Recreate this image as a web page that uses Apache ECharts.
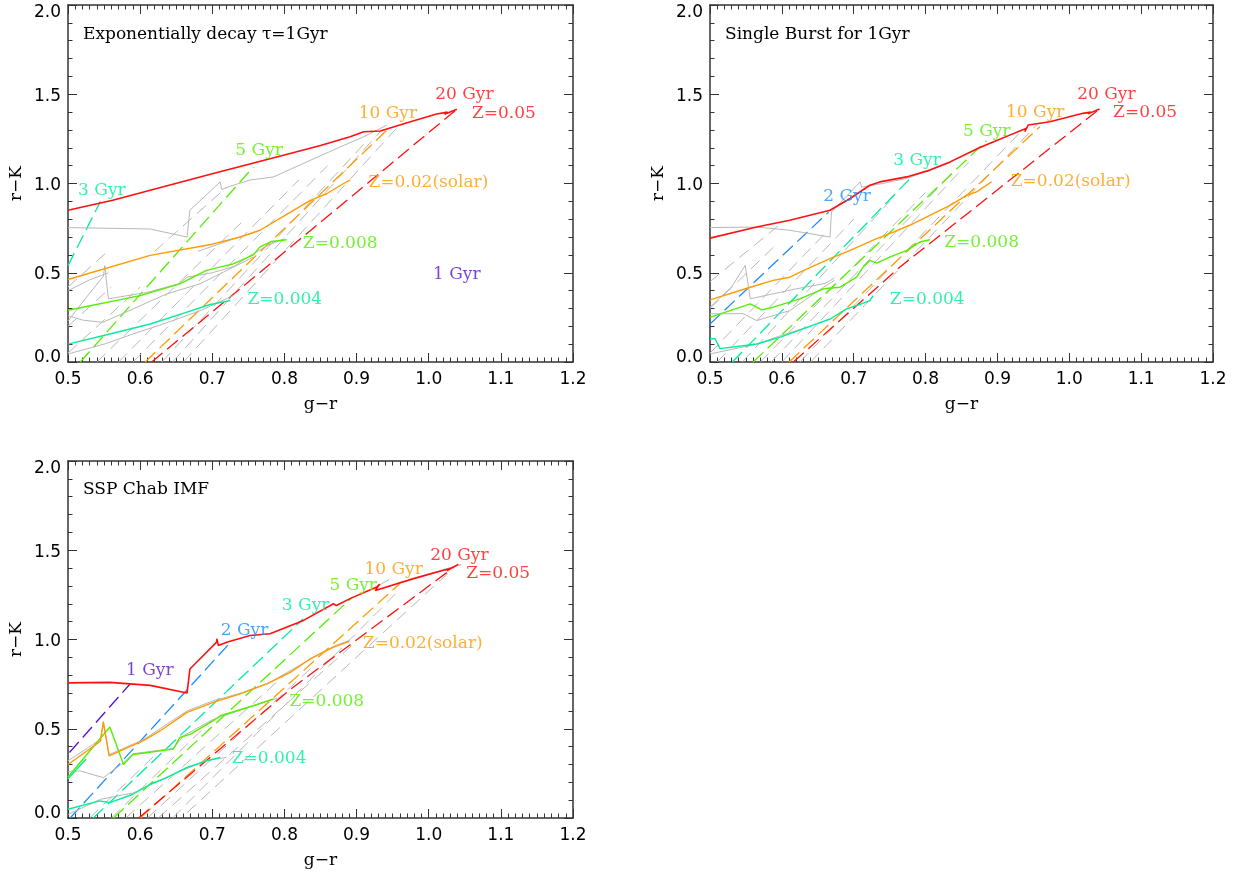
<!DOCTYPE html>
<html>
<head>
<meta charset="utf-8">
<title>Colour tracks: g-r vs r-K</title>
<script src="https://cdn.jsdelivr.net/npm/echarts@6/dist/echarts.min.js"></script>
<style>
  html, body { margin: 0; padding: 0; background: #fff; }
  #chart { width: 1236px; height: 875px; }
</style>
</head>
<body>
<div id="chart"></div>
<script>
// ---------- Panel 1: exponentially declining SFH, tau = 1 Gyr ----------
const expZ05 = [[0.5,0.85],[0.562,0.906],[0.614,0.962],[0.7,1.055],[0.8,1.16],[0.85,1.213],[0.891,1.262],[0.91,1.29],[0.933,1.294],[0.97,1.34],[1.011,1.389],[1.026,1.40],[1.022,1.388],[1.039,1.416]];
const expZ02 = [[0.5,0.462],[0.614,0.597],[0.7,0.66],[0.739,0.70],[0.766,0.738],[0.8125,0.85],[0.836,0.906],[0.859,0.944],[0.882,1.0],[0.891,1.019]];
const expZ008 = [[0.5,0.29],[0.6,0.372],[0.655,0.438],[0.692,0.513],[0.729,0.55],[0.757,0.60],[0.766,0.645],[0.782,0.675],[0.803,0.685]];
const expZ004 = [[0.5,0.10],[0.558,0.157],[0.614,0.213],[0.665,0.279],[0.697,0.322],[0.725,0.344]];
const expDashZ05 = [[0.616,0],[1.039,1.416]];
const expDashZ02 = [[0.607,0],[0.947,1.318]];
const expDashZ008 = [[0.517,0],[0.757,1.093]];
const expDashZ004 = [[0.5,0.54],[0.545,0.90]];
const expGrey = [
  [[0.5,0.753],[0.586,0.747],[0.614,0.745],[0.665,0.70],[0.669,0.85],[0.711,1.009],[0.713,0.966],[0.725,0.985],[0.752,1.019],[0.785,1.037],[0.831,1.121],[0.873,1.197],[0.91,1.262],[0.942,1.327]],
  [[0.5,0.23],[0.525,0.36],[0.549,0.48],[0.551,0.54],[0.556,0.354],[0.61,0.39],[0.655,0.44],[0.665,0.475],[0.70,0.50],[0.73,0.535],[0.75,0.59],[0.78,0.66],[0.80,0.69]],
  [[0.5,0.40],[0.53,0.46],[0.556,0.50]],
  [[0.5,0.26],[0.52,0.235],[0.548,0.222],[0.575,0.27],[0.637,0.382],[0.683,0.438],[0.729,0.531],[0.757,0.588]],
  [[0.5,0.045],[0.55,0.10],[0.59,0.157],[0.637,0.22],[0.683,0.287],[0.729,0.372]],
  [[0.68,0.62],[0.73,0.69],[0.76,0.73]]
];
const expGreyDash = [
  [[0.5,0.05],[0.6,0.42]],
  [[0.5,0.20],[0.56,0.42]],
  [[0.5,0.42],[0.555,0.62]],
  [[0.54,0],[0.74,0.78]],
  [[0.57,0],[0.82,1.02]],
  [[0.59,0],[0.86,1.10]],
  [[0.63,0],[0.91,1.22]],
  [[0.645,0],[0.935,1.30]],
  [[0.66,0],[0.96,1.33]],
  [[0.62,0.62],[0.72,0.98]]
];
const expLabels = [
  ['3 Gyr',0.514,0.958,'z004'],['5 Gyr',0.732,1.187,'z008'],['10 Gyr',0.903,1.389,'z02'],
  ['20 Gyr',1.009,1.496,'z05'],['Z=0.05',1.06,1.393,'z05'],['Z=0.02(solar)',0.9165,1.003,'z02'],
  ['Z=0.008',0.8255,0.666,'z008'],['Z=0.004',0.7487,0.348,'z004'],['1 Gyr',1.006,0.49,'g1']
];

// ---------- Panel 2: single 1 Gyr burst ----------
const sbZ05 = [[0.5,0.694],[0.565,0.756],[0.611,0.794],[0.667,0.85],[0.695,0.916],[0.7225,0.99],[0.7364,1.009],[0.7736,1.037],[0.806,1.075],[0.834,1.121],[0.8755,1.202],[0.917,1.271],[0.9405,1.309],[0.938,1.29],[0.943,1.328],[0.973,1.346],[1.019,1.393],[1.03,1.40],[1.026,1.39],[1.042,1.417]];
const sbZ02 = [[0.5,0.348],[0.556,0.419],[0.588,0.457],[0.611,0.475],[0.635,0.522],[0.667,0.579],[0.695,0.625],[0.732,0.691],[0.75,0.719],[0.778,0.766],[0.806,0.822],[0.834,0.878],[0.857,0.934],[0.871,0.953],[0.892,1.01]];
const sbZ008 = [[0.5,0.25],[0.556,0.326],[0.572,0.292],[0.588,0.307],[0.625,0.354],[0.658,0.41],[0.681,0.419],[0.704,0.475],[0.713,0.531],[0.7225,0.569],[0.732,0.554],[0.75,0.588],[0.774,0.625],[0.792,0.672],[0.806,0.685]];
const sbZ004 = [[0.5,0.13],[0.507,0.13],[0.514,0.075],[0.565,0.101],[0.597,0.138],[0.635,0.194],[0.667,0.241],[0.69,0.298],[0.704,0.316],[0.7225,0.344],[0.727,0.372]];
const sbDashZ05 = [[0.616,0],[0.764,0.531],[1.042,1.417]];
const sbDashZ02 = [[0.61,0],[0.959,1.318]];
const sbDashZ008 = [[0.56,0],[0.885,1.24]];
const sbDashZ004 = [[0.531,0],[0.783,1.047]];
const sbDash2Gyr = [[0.5,0.213],[0.665,0.84]];
const sbGrey = [
  [[0.5,0.753],[0.565,0.756],[0.611,0.738],[0.667,0.70],[0.669,0.84],[0.709,1.009],[0.711,0.98],[0.74,1.0],[0.775,1.03],[0.83,1.11],[0.87,1.19],[0.935,1.30]],
  [[0.5,0.307],[0.53,0.42],[0.549,0.541],[0.556,0.354],[0.62,0.41],[0.66,0.44],[0.673,0.47]],
  [[0.5,0.27],[0.546,0.271],[0.565,0.232],[0.611,0.288],[0.658,0.419],[0.673,0.457]],
  [[0.5,0.045],[0.565,0.10],[0.60,0.15],[0.64,0.20]]
];
const sbGreyDash = [
  [[0.5,0.05],[0.66,0.72]],
  [[0.51,0],[0.70,0.80]],
  [[0.545,0],[0.75,0.90]],
  [[0.57,0],[0.80,0.95]],
  [[0.585,0],[0.84,1.07]],
  [[0.6,0],[0.86,1.12]],
  [[0.625,0],[0.93,1.28]],
  [[0.64,0],[0.955,1.33]],
  [[0.5,0.45],[0.6,0.78]],
  [[0.5,0.30],[0.59,0.65]]
];
const sbLabels = [
  ['2 Gyr',0.6576,0.925,'g2'],['3 Gyr',0.755,1.127,'z004'],['5 Gyr',0.852,1.29,'z008'],
  ['10 Gyr',0.912,1.399,'z02'],['20 Gyr',1.011,1.496,'z05'],['Z=0.05',1.061,1.397,'z05'],
  ['Z=0.02(solar)',0.9186,1.009,'z02'],['Z=0.008',0.826,0.668,'z008'],['Z=0.004',0.7503,0.35,'z004']
];

// ---------- Panel 3: SSP, Chabrier IMF ----------
const sspZ05 = [[0.5,0.757],[0.558,0.76],[0.614,0.743],[0.665,0.70],[0.669,0.835],[0.706,0.985],[0.7062,1.004],[0.7085,0.966],[0.72,0.985],[0.7524,1.022],[0.78,1.032],[0.8264,1.107],[0.868,1.20],[0.872,1.19],[0.891,1.229],[0.928,1.294],[0.932,1.31],[0.926,1.275],[0.979,1.341],[1.0205,1.388],[1.03,1.397],[1.025,1.385],[1.041,1.421]];
const sspZ02 = [[0.5,0.30],[0.545,0.43],[0.549,0.54],[0.557,0.348],[0.6045,0.433],[0.628,0.489],[0.665,0.592],[0.7015,0.648],[0.7386,0.695],[0.7756,0.751],[0.808,0.816],[0.8356,0.891],[0.868,0.957],[0.89,0.99]];
const sspZ008 = [[0.5,0.23],[0.558,0.51],[0.577,0.30],[0.59,0.356],[0.646,0.386],[0.655,0.451],[0.67,0.47],[0.7015,0.545],[0.711,0.573],[0.757,0.629],[0.785,0.667]];
const sspZ004 = [[0.5,0.049],[0.544,0.096],[0.558,0.086],[0.59,0.133],[0.614,0.189],[0.637,0.226],[0.665,0.283],[0.692,0.32],[0.711,0.339]];
const sspZ004Young = [[0.5,0.22],[0.525,0.33]];
const sspDash1Gyr = [[0.502,0.367],[0.586,0.751]];
const sspDash2Gyr = [[0.503,0],[0.722,0.97]];
const sspDashZ004 = [[0.535,0],[0.826,1.116]];
const sspDashZ008 = [[0.563,0],[0.895,1.24]];
const sspDashZ02 = [[0.6,0],[0.96,1.313]];
const sspDashZ05 = [[0.598,0],[0.808,0.72],[1.03,1.39]];
const sspGrey = [
  [[0.5,0.32],[0.545,0.44],[0.549,0.53],[0.557,0.355],[0.605,0.44],[0.665,0.60],[0.70,0.655],[0.74,0.70],[0.78,0.76],[0.81,0.83],[0.84,0.90],[0.87,0.965],[0.89,0.995]],
  [[0.5,0.26],[0.517,0.264],[0.549,0.226],[0.577,0.31],[0.59,0.36],[0.646,0.39],[0.66,0.46],[0.70,0.55],[0.757,0.63],[0.79,0.67]],
  [[0.5,0.02],[0.545,0.105],[0.59,0.14],[0.64,0.235],[0.69,0.32],[0.72,0.34]],
  [[0.925,1.29],[0.945,1.335]],
  [[0.985,1.35],[1.045,1.42],[1.02,1.39]]
];
const sspGreyDash = [
  [[0.53,0],[0.62,0.35]],
  [[0.56,0],[0.70,0.55]],
  [[0.58,0],[0.80,0.80]],
  [[0.61,0],[0.84,0.85]],
  [[0.625,0],[0.90,0.99]],
  [[0.645,0],[0.96,1.28]],
  [[0.665,0.03],[1.04,1.42]]
];
const sspLabels = [
  ['1 Gyr',0.5804,0.826,'g1'],['2 Gyr',0.7118,1.05,'g2'],['3 Gyr',0.7964,1.191,'z004'],
  ['5 Gyr',0.8624,1.303,'z008'],['10 Gyr',0.911,1.393,'z02'],['20 Gyr',1.002,1.468,'z05'],
  ['Z=0.05',1.052,1.369,'z05'],['Z=0.02(solar)',0.9087,0.979,'z02'],['Z=0.008',0.8069,0.652,'z008'],
  ['Z=0.004',0.727,0.335,'z004']
];

const panelTitles = ['Exponentially decay \u03c4=1Gyr', 'Single Burst for 1Gyr', 'SSP Chab IMF'];

// ---------- styling ----------
const COLORS = {
  z05: '#ff1010', z02: '#ff9a00', z008: '#55ee00', z004: '#00ee99',
  g2: '#1e8cff', g1: '#5a10cc', grey: '#b8b8b8'
};
const AXIS_COLOR = '#333';
const SERIF = 'DejaVu Serif';
const SANS = 'DejaVu Sans';

const grids = [
  { left: 68, top: 5, width: 505, height: 357 },
  { left: 710, top: 5, width: 503, height: 357 },
  { left: 68, top: 461, width: 505, height: 357 }
];

// y tick labels sit slightly below their ticks; the end labels are pulled inside the frame
const yLabelRich = {
  hi:  { fontFamily: SANS, fontSize: 17, color: '#000', padding: [16, 0, 0, 0] },
  lo:  { fontFamily: SANS, fontSize: 17, color: '#000', padding: [0, 0, 8, 0] },
  mid: { fontFamily: SANS, fontSize: 17, color: '#000', padding: [4, 0, 0, 0] }
};
function yLabel(v) {
  const t = v.toFixed(1);
  if (v >= 2) return '{hi|' + t + '}';
  if (v <= 0) return '{lo|' + t + '}';
  return '{mid|' + t + '}';
}

const xAxes = [], yAxes = [];
grids.forEach((g, i) => {
  const tickCommon = {
    axisLine: { show: true, onZero: false, lineStyle: { color: AXIS_COLOR, width: 1.5 } },
    axisTick: { show: true, inside: true, length: 9, lineStyle: { color: AXIS_COLOR, width: 1 } },
    splitLine: { show: false },
    nameMoveOverlap: false
  };
  xAxes.push(Object.assign({}, tickCommon, {
    type: 'value', gridIndex: i, position: 'bottom', min: 0.5, max: 1.2, interval: 0.1,
    minorTick: { show: true, splitNumber: 10, length: 4.5, lineStyle: { color: AXIS_COLOR, width: 1 } },
    axisLabel: { margin: 9, color: '#000', fontFamily: SANS, fontSize: 17, formatter: v => v.toFixed(1) },
    name: 'g\u2212r', nameLocation: 'middle', nameGap: 34,
    nameTextStyle: { fontFamily: SERIF, fontSize: 17, color: '#000' }
  }));
  xAxes.push(Object.assign({}, tickCommon, {
    type: 'value', gridIndex: i, position: 'top', min: 0.5, max: 1.2, interval: 0.1,
    minorTick: { show: true, splitNumber: 10, length: 4.5, lineStyle: { color: AXIS_COLOR, width: 1 } },
    axisLabel: { show: false }
  }));
  yAxes.push(Object.assign({}, tickCommon, {
    type: 'value', gridIndex: i, position: 'left', min: 0, max: 2, interval: 0.5,
    minorTick: { show: true, splitNumber: 5, length: 4.5, lineStyle: { color: AXIS_COLOR, width: 1 } },
    axisLabel: { margin: 7, color: '#000', fontFamily: SANS, fontSize: 17, formatter: yLabel, rich: yLabelRich },
    name: 'r\u2212K', nameLocation: 'middle', nameGap: 43, nameRotate: 90,
    nameTextStyle: { fontFamily: SERIF, fontSize: 17, color: '#000' }
  }));
  yAxes.push(Object.assign({}, tickCommon, {
    type: 'value', gridIndex: i, position: 'right', min: 0, max: 2, interval: 0.5,
    minorTick: { show: true, splitNumber: 5, length: 4.5, lineStyle: { color: AXIS_COLOR, width: 1 } },
    axisLabel: { show: false }
  }));
});

const series = [];
function addLine(panel, data, color, width, dash) {
  series.push({
    type: 'line', xAxisIndex: panel * 2, yAxisIndex: panel * 2,
    data: data, showSymbol: false, symbol: 'none', silent: true, animation: false,
    lineStyle: { color: color, width: width, type: dash || 'solid' },
    z: dash ? 2 : 3
  });
}
const COLOR_DASH = [14, 6];
const GREY_DASH = [12, 7];
function addLabels(panel, labels) {
  series.push({
    type: 'scatter', xAxisIndex: panel * 2, yAxisIndex: panel * 2,
    symbolSize: 0, silent: true, animation: false, z: 5,
    data: labels.map(l => ({
      value: [l[1], l[2]], name: l[0],
      label: { show: true, position: 'right', distance: 0, formatter: l[0],
               color: COLORS[l[3]], fontFamily: SERIF, fontSize: 17 }
    }))
  });
}

// panel 1
expGreyDash.forEach(d => addLine(0, d, COLORS.grey, 1, GREY_DASH));
expGrey.forEach(d => addLine(0, d, COLORS.grey, 1));
addLine(0, expDashZ004, COLORS.z004, 1.3, COLOR_DASH);
addLine(0, expDashZ008, COLORS.z008, 1.3, COLOR_DASH);
addLine(0, expDashZ02, COLORS.z02, 1.3, COLOR_DASH);
addLine(0, expDashZ05, COLORS.z05, 1.3, COLOR_DASH);
addLine(0, expZ004, COLORS.z004, 1.4);
addLine(0, expZ008, COLORS.z008, 1.4);
addLine(0, expZ02, COLORS.z02, 1.4);
addLine(0, expZ05, COLORS.z05, 1.6);
addLabels(0, expLabels);

// panel 2
sbGreyDash.forEach(d => addLine(1, d, COLORS.grey, 1, GREY_DASH));
sbGrey.forEach(d => addLine(1, d, COLORS.grey, 1));
addLine(1, sbDash2Gyr, COLORS.g2, 1.3, COLOR_DASH);
addLine(1, sbDashZ004, COLORS.z004, 1.3, COLOR_DASH);
addLine(1, sbDashZ008, COLORS.z008, 1.3, COLOR_DASH);
addLine(1, sbDashZ02, COLORS.z02, 1.3, COLOR_DASH);
addLine(1, sbDashZ05, COLORS.z05, 1.3, COLOR_DASH);
addLine(1, sbZ004, COLORS.z004, 1.4);
addLine(1, sbZ008, COLORS.z008, 1.4);
addLine(1, sbZ02, COLORS.z02, 1.4);
addLine(1, sbZ05, COLORS.z05, 1.6);
addLabels(1, sbLabels);

// panel 3
sspGreyDash.forEach(d => addLine(2, d, COLORS.grey, 1, GREY_DASH));
sspGrey.forEach(d => addLine(2, d, COLORS.grey, 1));
addLine(2, sspDash1Gyr, COLORS.g1, 1.3, COLOR_DASH);
addLine(2, sspDash2Gyr, COLORS.g2, 1.3, COLOR_DASH);
addLine(2, sspDashZ004, COLORS.z004, 1.3, COLOR_DASH);
addLine(2, sspDashZ008, COLORS.z008, 1.3, COLOR_DASH);
addLine(2, sspDashZ02, COLORS.z02, 1.3, COLOR_DASH);
addLine(2, sspDashZ05, COLORS.z05, 1.3, COLOR_DASH);
addLine(2, sspZ004, COLORS.z004, 1.4);
addLine(2, sspZ004Young, COLORS.z004, 1.4);
addLine(2, sspZ008, COLORS.z008, 1.4);
addLine(2, sspZ02, COLORS.z02, 1.4);
addLine(2, sspZ05, COLORS.z05, 1.6);
addLabels(2, sspLabels);

const titleStyle = { fontFamily: SERIF, fontSize: 17, fontWeight: 'normal', color: '#000' };
const chart = echarts.init(document.getElementById('chart'), null, { renderer: 'canvas' });
chart.setOption({
  backgroundColor: '#fff',
  animation: false,
  title: [
    { text: panelTitles[0], left: 83, top: 26, padding: 0, textStyle: titleStyle },
    { text: panelTitles[1], left: 725, top: 26, padding: 0, textStyle: titleStyle },
    { text: panelTitles[2], left: 83, top: 481, padding: 0, textStyle: titleStyle }
  ],
  grid: grids.map(g => Object.assign({ containLabel: false, outerBoundsMode: 'none' }, g)),
  xAxis: xAxes,
  yAxis: yAxes,
  series: series
});
</script>
</body>
</html>
